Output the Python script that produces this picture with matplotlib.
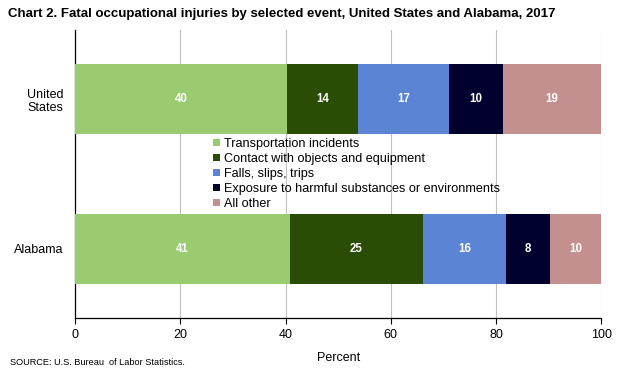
import matplotlib
matplotlib.use("Agg")
import matplotlib.pyplot as plt
import numpy as np

# ---------------------------------------------------------------------------
# Data (percent of fatal injuries by event)
# ---------------------------------------------------------------------------
regions = ["United\nStates", "Alabama"]
events = [
    "Transportation incidents",
    "Contact with objects and equipment",
    "Falls, slips, trips",
    "Exposure to harmful substances or environments",
    "All other",
]
us_values = [40.2, 13.6, 17.3, 10.2, 18.7]
al_values = [40.8, 25.3, 15.7, 8.4, 9.8]
us_labels = [40, 14, 17, 10, 19]
al_labels = [41, 25, 16, 8, 10]
x_ticks = [0, 20, 40, 60, 80, 100]

COLORS = ["#9BCB70", "#2A4D06", "#5B84D5", "#00002E", "#C4908F"]

plt.rcParams["font.family"] = ["Liberation Sans", "DejaVu Sans"]

fig = plt.figure(figsize=(6.2, 3.73), dpi=100)
fig.patch.set_facecolor("white")
ax = fig.add_axes([0.121, 0.1475, 0.849, 0.772])

values = np.array([us_values, al_values])
labels = [us_labels, al_labels]
y_pos = np.arange(len(regions))
left = np.zeros(len(regions))

for j, (name, color) in enumerate(zip(events, COLORS)):
    seg = values[:, j]
    ax.barh(y_pos, seg, left=left, height=0.47, color=color, label=name, zorder=3)
    for i in range(len(regions)):
        ax.text(left[i] + seg[i] / 2, y_pos[i], str(labels[i][j]),
                ha="center", va="center", color="white",
                fontsize=8.3, fontweight="bold", zorder=4)
    left += seg

ax.set_xlim(0, 100)
ax.set_ylim(1.46, -0.46)
ax.set_xticks(x_ticks)
ax.set_xticklabels([str(t) for t in x_ticks], fontsize=9)
ax.set_yticks(y_pos)
ax.set_yticklabels(regions, fontsize=9, multialignment="center")
ax.tick_params(axis="y", length=0, pad=8)
ax.tick_params(axis="x", length=4, width=0.8, color="black", pad=4)
ax.grid(axis="x", color="#C0C0C0", linewidth=0.8, zorder=0)
for s in ["top", "right"]:
    ax.spines[s].set_visible(False)
for s in ["left", "bottom"]:
    ax.spines[s].set_color("black")
    ax.spines[s].set_linewidth(0.9)

ax.set_xlabel("Percent", fontsize=9, labelpad=8)

leg = ax.legend(loc="upper left", bbox_to_anchor=(0.262, 0.625), frameon=False,
                fontsize=9.1, handlelength=0.55, handleheight=0.55,
                handletextpad=0.3, labelspacing=0.24, borderaxespad=0,
                borderpad=0)
for t in leg.get_texts():
    t.set_color("black")

fig.text(0.013, 0.962, "Chart 2. Fatal occupational injuries by selected event, "
         "United States and Alabama, 2017",
         fontsize=9.5, fontweight="bold", ha="left", va="center")
fig.text(0.016, 0.028, "SOURCE: U.S. Bureau  of Labor Statistics.",
         fontsize=6.6, ha="left", va="center")

fig.savefig("out.png", dpi=100, facecolor="white")
